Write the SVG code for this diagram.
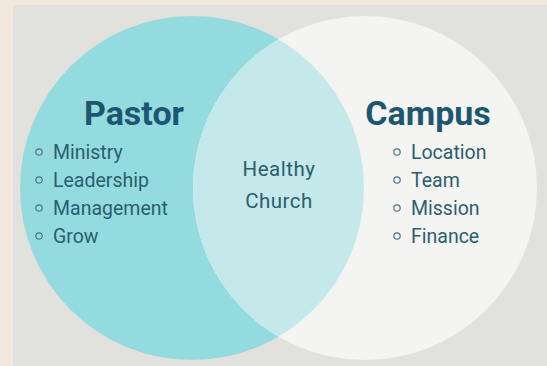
<svg xmlns="http://www.w3.org/2000/svg" width="547" height="366" viewBox="0 0 547 366">
<style>
.h{font-family:Roboto,"Liberation Sans",sans-serif;font-weight:700;font-size:34px;fill:#1d5670}
.i{font-family:Roboto,"Liberation Sans",sans-serif;font-size:19.5px;fill:#2b5e6f}
.c{font-family:Roboto,"Liberation Sans",sans-serif;font-size:20.5px;fill:#2b5e6f;letter-spacing:0.5px}
.b{fill:none;stroke:#4f7583;stroke-width:1.2}
</style>
<defs>
<clipPath id="lc"><circle cx="192" cy="188" r="172"/></clipPath>
</defs>
<rect width="547" height="366" fill="#f3e8de"/>
<rect x="13" y="5" width="534" height="361" fill="#e1e1dd"/>
<g id="pastor">
<circle cx="192" cy="188" r="172" fill="#93dbde"/>
<text class="h" x="134" y="125" text-anchor="middle">Pastor</text>
<circle class="b" cx="39" cy="152" r="3.2"/><text class="i" x="53" y="159">Ministry</text>
<circle class="b" cx="39" cy="180" r="3.2"/><text class="i" x="53" y="187">Leadership</text>
<circle class="b" cx="39" cy="208" r="3.2"/><text class="i" x="53" y="215">Management</text>
<circle class="b" cx="39" cy="236" r="3.2"/><text class="i" x="53" y="243">Grow</text>
</g>
<g id="campus">
<circle cx="365" cy="188" r="172" fill="#f4f4f2"/>
<text class="h" x="428" y="125" text-anchor="middle">Campus</text>
<circle class="b" cx="397" cy="152" r="3.2"/><text class="i" x="411" y="159">Location</text>
<circle class="b" cx="397" cy="180" r="3.2"/><text class="i" x="411" y="187">Team</text>
<circle class="b" cx="397" cy="208" r="3.2"/><text class="i" x="411" y="215">Mission</text>
<circle class="b" cx="397" cy="236" r="3.2"/><text class="i" x="411" y="243">Finance</text>
</g>
<g id="overlap">
<circle cx="365" cy="188" r="172" fill="#c5e8ea" clip-path="url(#lc)"/>
<text class="c" x="279" y="176" text-anchor="middle">Healthy</text>
<text class="c" x="279" y="208" text-anchor="middle">Church</text>
</g>
<g id="connectors"/>
</svg>
